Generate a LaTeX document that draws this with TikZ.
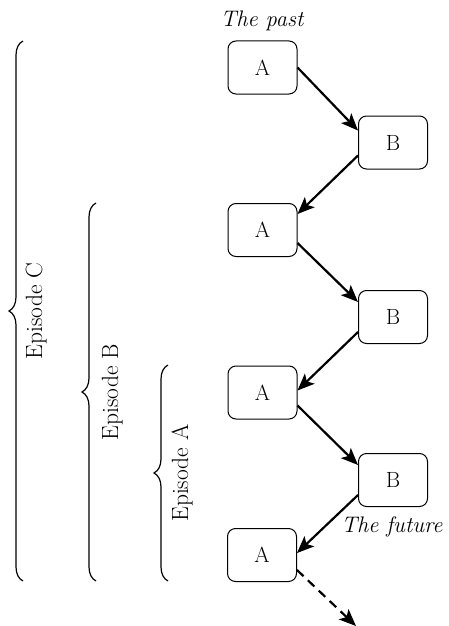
\documentclass[tikz,border=0pt]{standalone}
\usetikzlibrary{arrows.meta,decorations.pathreplacing}
\begin{document}
\begin{tikzpicture}[x=1pt,y=-1pt,
  box/.style={draw,rounded corners=8pt,line width=1pt,minimum width=69pt,minimum height=53pt,inner sep=0pt,font=\fontsize{22}{26}\selectfont},
  arr/.style={line width=2.2pt,-{Stealth[length=17pt,width=14pt,inset=4pt]}},
  brc/.style={decorate,decoration={brace,amplitude=14pt},line width=1.2pt},
  eplabel/.style={rotate=90,anchor=base,font=\fontsize{23.5}{27}\selectfont},
  tlabel/.style={font=\fontsize{22.5}{27}\selectfont\itshape}]
\useasboundingbox (0,0) rectangle (448,626);
\node[box] (A1) at (262.5,67.5) {A};
\node[box] (B1) at (393,142.5) {B};
\node[box] (A2) at (262.5,230) {A};
\node[box] (B2) at (393,317) {B};
\node[box] (A3) at (262.5,392.5) {A};
\node[box] (B3) at (393,480) {B};
\node[box] (A4) at (262,555) {A};
\coordinate (end) at (356,626);
\node[tlabel,anchor=base] (past) at (262,27) {The past};
\node[tlabel,anchor=base east] (future) at (446,532) {The future};
\draw[arr] (A1.east) -- ([yshift=12pt]B1.west);
\draw[arr] ([yshift=-13pt]B1.west) -- ([yshift=16pt]A2.east);
\draw[arr] ([yshift=-13pt]A2.east) -- ([yshift=15pt]B2.west);
\draw[arr] ([yshift=-15pt]B2.west) -- ([yshift=2pt]A3.east);
\draw[arr] ([yshift=-13pt]A3.east) -- ([yshift=15pt]B3.west);
\draw[arr] ([yshift=-15pt]B3.west) -- ([yshift=2pt]A4.east);
\draw[arr,dash pattern=on 9pt off 6pt] ([yshift=-15pt]A4.east) -- (end);
\draw[brc] (23,581) -- (23,41);
\draw[brc] (96,581) -- (96,203);
\draw[brc] (168,581) -- (168,365);
\node[eplabel] (epC) at (42,311) {Episode C};
\node[eplabel] (epB) at (118,392) {Episode B};
\node[eplabel] (epA) at (188,473) {Episode A};
\end{tikzpicture}
\end{document}
